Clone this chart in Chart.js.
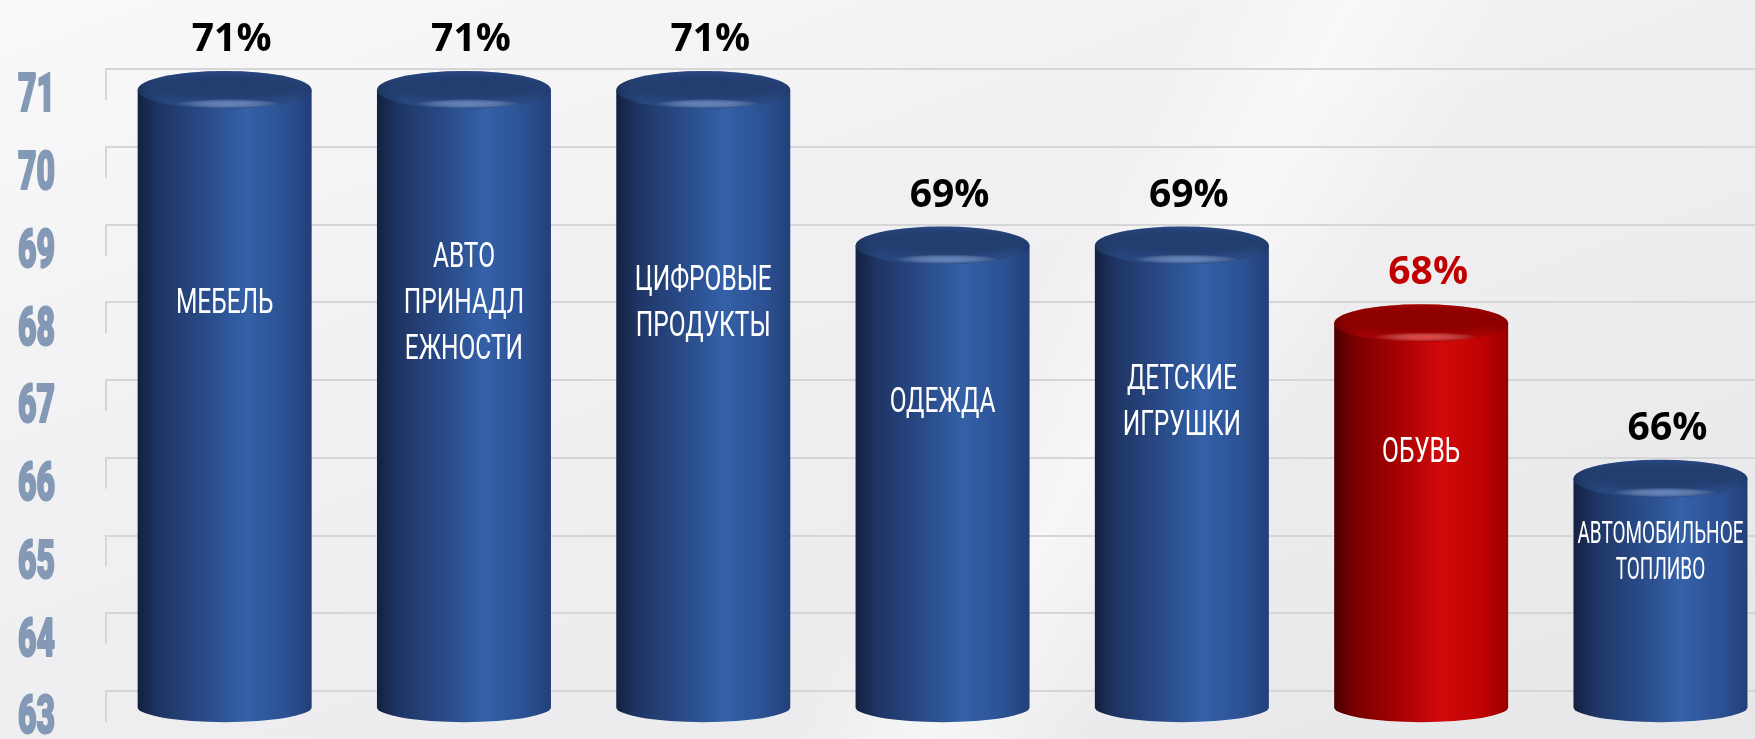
<!DOCTYPE html>
<html>
<head>
<meta charset="utf-8">
<script src="https://cdn.jsdelivr.net/npm/chart.js@4.4.1/dist/chart.umd.min.js"></script>
<style>
html, body { margin: 0; padding: 0; overflow: hidden; }
body {
    width: 1755px; height: 739px;
    background:
        linear-gradient(120deg, rgba(255,255,255,0) 55%, rgba(255,255,255,0.55) 62%, rgba(255,255,255,0) 70%),
        linear-gradient(160deg, #f9f9fa 0%, #f1f1f3 35%, #ececee 70%, #e7e7e9 100%);
}
#chart { display: block; }
</style>
</head>
<body>
<canvas id="chart" width="1755" height="739"></canvas>
<script>
// categories (printed inside the cylinders, one entry per line)
const categories = [
    ['МЕБЕЛЬ'],
    ['АВТО', 'ПРИНАДЛ', 'ЕЖНОСТИ'],
    ['ЦИФРОВЫЕ', 'ПРОДУКТЫ'],
    ['ОДЕЖДА'],
    ['ДЕТСКИЕ', 'ИГРУШКИ'],
    ['ОБУВЬ'],
    ['АВТОМОБИЛЬНОЕ', 'ТОПЛИВО']
];
const values = [71, 71, 71, 69, 69, 68, 66];
const yTicks = [63, 64, 65, 66, 67, 68, 69, 70, 71];
const highlightIndex = 5;   // ОБУВЬ is drawn in red
const barBase = 62.6;       // cylinders start a little below the 63 line (3D floor)

const palettes = {
    blue: {
        body: [[0, '#132140'], [0.12, '#1e3564'], [0.38, '#294a87'], [0.62, '#3461a8'], [0.86, '#2c5092'], [1, '#223f78']],
        rim: '#2c4f8d', inner: '#233d6e',
        glow: 'rgba(110,150,215,0.7)',
        label: '#000000'
    },
    red: {
        body: [[0, '#4a0000'], [0.12, '#7a0000'], [0.38, '#a80202'], [0.62, '#d20a0a'], [0.86, '#bd0202'], [1, '#9a0000']],
        rim: '#b00404', inner: '#8c0000',
        glow: 'rgba(255,90,90,0.7)',
        label: '#c00000'
    }
};

function hGradient(ctx, left, right, stops) {
    const g = ctx.createLinearGradient(left, 0, right, 0);
    stops.forEach(([o, c]) => g.addColorStop(o, c));
    return g;
}

// back wall: small vertical strokes at the left end of every grid line + condensed tick numbers
const wallTicks = {
    id: 'wallTicks',
    beforeDatasetsDraw(chart) {
        const { ctx, chartArea, scales: { y } } = chart;
        ctx.save();
        ctx.strokeStyle = '#d6d6d8';
        ctx.lineWidth = 2;
        y.ticks.forEach(t => {
            const py = y.getPixelForValue(t.value);
            ctx.beginPath();
            ctx.moveTo(chartArea.left + 1, py);
            ctx.lineTo(chartArea.left + 1, py + 31);
            ctx.stroke();
        });
        ctx.fillStyle = '#8399b5';
        ctx.strokeStyle = '#8399b5';
        ctx.lineWidth = 2.2;
        ctx.lineJoin = 'round';
        ctx.font = '900 53px Roboto, sans-serif';
        ctx.textAlign = 'left';
        ctx.textBaseline = 'middle';
        const sx = 37 / ctx.measureText('69').width;
        y.ticks.forEach(t => {
            const py = y.getPixelForValue(t.value);
            ctx.save();
            ctx.translate(18, py + 29);
            ctx.scale(sx, 1);
            ctx.fillText(String(t.value), 0, 0);
            ctx.strokeText(String(t.value), 0, 0);
            ctx.restore();
        });
        ctx.restore();
    }
};

// draws every bar as a shaded cylinder, plus its labels
const cylinders = {
    id: 'cylinders',
    afterDatasetsDraw(chart) {
        const ctx = chart.ctx;
        const meta = chart.getDatasetMeta(0);
        meta.data.forEach((bar, i) => {
            const { x, y, base, width } = bar.getProps(['x', 'y', 'base', 'width'], true);
            const p = i === highlightIndex ? palettes.red : palettes.blue;
            const rx = width / 2, left = x - rx, right = x + rx;
            const capRy = 19, footRy = 15;
            const capY = y + capRy + 2, footY = base - footRy;

            ctx.save();
            // body
            ctx.beginPath();
            ctx.moveTo(left, capY);
            ctx.lineTo(left, footY);
            ctx.ellipse(x, footY, rx, footRy, 0, Math.PI, 0, true);
            ctx.lineTo(right, capY);
            ctx.closePath();
            ctx.fillStyle = hGradient(ctx, left, right, p.body);
            ctx.fill();

            // cap: rounded rim + flat darker top
            ctx.beginPath();
            ctx.ellipse(x, capY, rx, capRy, 0, 0, Math.PI * 2);
            ctx.fillStyle = p.rim;
            ctx.fill();
            ctx.save();
            ctx.clip();
            ctx.fillStyle = hGradient(ctx, left, right, [[0, 'rgba(0,0,0,0.35)'], [0.15, 'rgba(0,0,0,0.1)'], [0.5, 'rgba(0,0,0,0)'], [0.9, 'rgba(0,0,0,0.08)'], [1, 'rgba(0,0,0,0.25)']]);
            ctx.fillRect(left, capY - capRy, width, capRy * 2);
            ctx.filter = 'blur(3px)';
            ctx.beginPath();
            ctx.ellipse(x, capY - capRy * 0.18, rx * 0.93, capRy * 0.72, 0, 0, Math.PI * 2);
            ctx.fillStyle = p.inner;
            ctx.fill();
            ctx.filter = 'none';
            ctx.restore();

            // soft highlight on the front rim
            ctx.save();
            ctx.translate(x + rx * 0.05, capY + capRy * 0.72);
            ctx.scale(1, 0.09);
            const rg = ctx.createRadialGradient(0, 0, 0, 0, 0, rx * 0.6);
            rg.addColorStop(0, p.glow);
            rg.addColorStop(1, 'rgba(255,255,255,0)');
            ctx.fillStyle = rg;
            ctx.beginPath();
            ctx.arc(0, 0, rx * 0.6, 0, Math.PI * 2);
            ctx.fill();
            ctx.restore();

            // value label above
            ctx.fillStyle = p.label;
            ctx.font = '700 39px "Open Sans", sans-serif';
            ctx.textAlign = 'center';
            ctx.textBaseline = 'alphabetic';
            ctx.fillText(values[i] + '%', x + 7, y - 18);

            // category label inside
            const lines = categories[i];
            let size = 35, lh = 46, sx = 0.7;
            ctx.font = '400 ' + size + 'px Roboto, sans-serif';
            let widest = Math.max(...lines.map(l => ctx.measureText(l).width));
            if (widest * sx > width - 8) {
                size = 32; lh = 36;
                ctx.font = '400 ' + size + 'px Roboto, sans-serif';
                widest = Math.max(...lines.map(l => ctx.measureText(l).width));
                sx = (width - 8) / widest;
            }
            const cy = y + 0.36 * (base - y);
            ctx.fillStyle = '#ffffff';
            ctx.textBaseline = 'middle';
            lines.forEach((l, k) => {
                const ly = cy + (k - (lines.length - 1) / 2) * lh;
                ctx.save();
                ctx.translate(x, ly);
                ctx.scale(sx, 1);
                ctx.fillText(l, 0, 0);
                ctx.restore();
            });
            ctx.restore();
        });
    }
};

const ctx = document.getElementById('chart').getContext('2d');
new Chart(ctx, {
    type: 'bar',
    data: {
        datasets: [{
            data: values.map((v, i) => ({ x: i, y: v })),
            base: barBase,
            backgroundColor: 'rgba(0,0,0,0)',
            borderWidth: 0,
            barThickness: 174,
            clip: false
        }]
    },
    options: {
        responsive: false,
        animation: false,
        events: [],
        layout: { padding: 0 },
        plugins: {
            legend: { display: false },
            tooltip: { enabled: false }
        },
        scales: {
            x: {
                type: 'linear',
                display: false,
                offset: false,
                grid: { offset: false },
                min: -0.5,
                max: 6.395
            },
            y: {
                min: 62.383,
                max: 71.888,
                afterBuildTicks: (s) => { s.ticks = yTicks.map(v => ({ value: v })); },
                afterFit: (s) => { s.width = 105; },
                border: { display: false },
                grid: { color: '#d6d6d8', lineWidth: 2, drawTicks: false },
                ticks: { display: false }
            }
        }
    },
    plugins: [wallTicks, cylinders]
});
</script>
</body>
</html>
